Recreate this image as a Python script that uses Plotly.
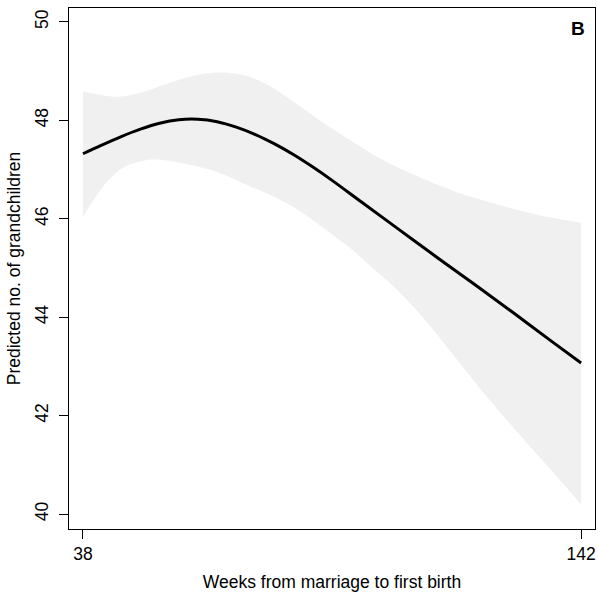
import plotly.graph_objects as go

# Predicted curve
x_fit = [38, 42, 46, 50, 54, 58, 62, 66, 70, 74, 78, 82, 86, 90, 96, 104, 112, 120, 128, 136, 142]
y_fit = [47.32, 47.50, 47.67, 47.82, 47.94, 48.01, 48.02, 47.97, 47.86, 47.71, 47.52, 47.30, 47.05, 46.78, 46.35, 45.78, 45.21, 44.65, 44.08, 43.50, 43.07]

# Confidence band
x_up = [38, 42, 45.5, 50, 55, 60, 65.7, 71, 76, 81, 87.4, 94, 101.3, 108, 115, 122, 130, 136, 142]
y_up = [48.59, 48.51, 48.48, 48.56, 48.72, 48.88, 48.97, 48.93, 48.75, 48.44, 48.00, 47.58, 47.16, 46.86, 46.58, 46.36, 46.15, 46.02, 45.92]
x_lo = [38, 41, 44, 47, 51.75, 56, 60, 66, 72.8, 78, 83.2, 88, 93.6, 98, 104, 110, 116, 122.1, 130, 136, 142]
y_lo = [46.04, 46.50, 46.85, 47.07, 47.20, 47.18, 47.10, 46.95, 46.66, 46.44, 46.16, 45.83, 45.42, 45.04, 44.52, 43.88, 43.15, 42.41, 41.52, 40.87, 40.20]

x_ticks = [38, 142]
y_ticks = [40, 42, 44, 46, 48, 50]

FONT = "Liberation Sans, Arial, sans-serif"

fig = go.Figure()
fig.add_trace(go.Scatter(
    x=x_up, y=y_up, mode="lines",
    line=dict(width=0, shape="spline", smoothing=1.0, color="#f0f0f0"),
    hoverinfo="skip", showlegend=False))
fig.add_trace(go.Scatter(
    x=x_lo, y=y_lo, mode="lines",
    line=dict(width=0, shape="spline", smoothing=1.0, color="#f0f0f0"),
    fill="tonexty", fillcolor="#f0f0f0", hoverinfo="skip", showlegend=False))
fig.add_trace(go.Scatter(
    x=x_fit, y=y_fit, mode="lines",
    line=dict(color="black", width=3, shape="spline", smoothing=1.0),
    showlegend=False))

fig.update_layout(
    width=598, height=592,
    margin=dict(l=69, r=2, t=8, b=57),
    plot_bgcolor="white", paper_bgcolor="white",
    font=dict(family=FONT, size=17.5, color="black"),
    xaxis=dict(range=[35.08, 144.9], tickvals=x_ticks, ticks="outside", ticklen=9,
               tickwidth=1, tickcolor="black", showline=True, mirror=True,
               linecolor="black", linewidth=1.3, showgrid=False, zeroline=False,
               title=dict(text="Weeks from marriage to first birth", standoff=14,
                          font=dict(size=17.5))),
    yaxis=dict(range=[39.70, 50.28], tickvals=y_ticks, ticks="outside", ticklen=9,
               tickwidth=1, tickcolor="black", tickangle=-90, showline=True, mirror=True,
               linecolor="black", linewidth=1.3, showgrid=False, zeroline=False,
               ticklabelstandoff=4,
               title=dict(text="Predicted no. of grandchildren", standoff=6,
                          font=dict(size=17.5))),
)
fig.add_annotation(x=0.985, y=0.985, xref="paper", yref="paper", text="<b>B</b>",
                   showarrow=False, xanchor="right", yanchor="top",
                   font=dict(size=19, family=FONT, color="black"))
fig.write_html("out.html")
